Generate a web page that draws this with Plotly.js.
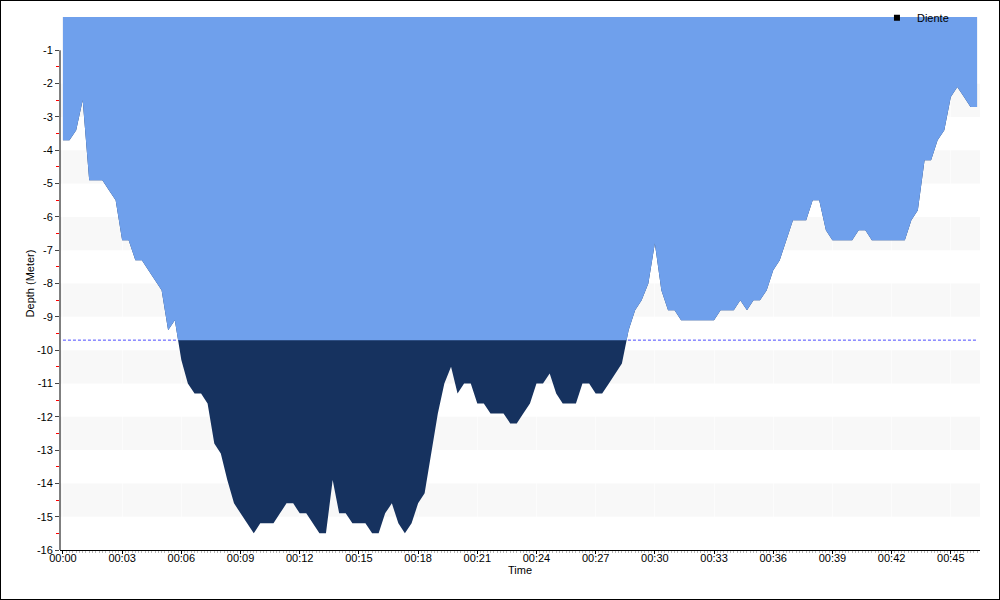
<!DOCTYPE html>
<html>
<head>
<meta charset="utf-8">
<script src="https://cdn.plot.ly/plotly-3.0.1.min.js"></script>
<style>
  html, body { margin: 0; padding: 0; background: #fff; }
  #wrap { position: relative; width: 1000px; height: 600px; }
  #chart { width: 1000px; height: 600px; }
  #frame { position: absolute; left: 0; top: 0; width: 1000px; height: 600px; box-sizing: border-box; border: 1px solid #000; pointer-events: none; }
</style>
</head>
<body>
<div id="wrap"><div id="chart"></div><div id="frame"></div></div>
<script>
// Dive time in minutes
const timeMin = [
  0, 0.33, 0.67, 1, 1.33, 1.67, 2, 2.33, 2.67, 3, 3.33, 3.67, 4, 4.33, 4.67, 5, 5.33, 5.67, 6, 6.33,
  6.67, 7, 7.33, 7.67, 8, 8.33, 8.67, 9, 9.33, 9.67, 10, 10.33, 10.67, 11, 11.33, 11.67, 12, 12.33, 12.67, 13,
  13.33, 13.67, 14, 14.33, 14.67, 15, 15.33, 15.67, 16, 16.33, 16.67, 17, 17.33, 17.67, 18, 18.33, 18.67, 19, 19.33, 19.67,
  20, 20.33, 20.67, 21, 21.33, 21.67, 22, 22.33, 22.67, 23, 23.33, 23.67, 24, 24.33, 24.67, 25, 25.33, 25.67, 26, 26.33,
  26.67, 27, 27.33, 27.67, 28, 28.33, 28.67, 29, 29.33, 29.67, 30, 30.33, 30.67, 31, 31.33, 31.67, 32, 32.33, 32.67, 33,
  33.33, 33.67, 34, 34.33, 34.67, 35, 35.33, 35.67, 36, 36.33, 36.67, 37, 37.33, 37.67, 38, 38.33, 38.67, 39, 39.33, 39.67,
  40, 40.33, 40.67, 41, 41.33, 41.67, 42, 42.33, 42.67, 43, 43.33, 43.67, 44, 44.33, 44.67, 45, 45.33, 45.67, 46, 46.33
];
// Depth in metres (negative = below surface)
const depthM = [
  -3.7, -3.7, -3.4, -2.5, -4.9, -4.9, -4.9, -5.2, -5.5, -6.7, -6.7, -7.3, -7.3, -7.6, -7.9, -8.2, -9.4, -9.1, -10.3, -11.0,
  -11.3, -11.3, -11.6, -12.8, -13.1, -13.9, -14.6, -14.9, -15.2, -15.5, -15.2, -15.2, -15.2, -14.9, -14.6, -14.6, -14.9, -14.9, -15.2, -15.5,
  -15.5, -13.9, -14.9, -14.9, -15.2, -15.2, -15.2, -15.5, -15.5, -14.9, -14.6, -15.2, -15.5, -15.2, -14.6, -14.3, -13.1, -11.9, -11.0, -10.5,
  -11.3, -11.0, -11.0, -11.6, -11.6, -11.9, -11.9, -11.9, -12.2, -12.2, -11.9, -11.6, -11.0, -11.0, -10.7, -11.3, -11.6, -11.6, -11.6, -11.0,
  -11.0, -11.3, -11.3, -11.0, -10.7, -10.4, -9.4, -8.8, -8.5, -8.0, -6.8, -8.2, -8.8, -8.8, -9.1, -9.1, -9.1, -9.1, -9.1, -9.1,
  -8.8, -8.8, -8.8, -8.5, -8.8, -8.5, -8.5, -8.2, -7.6, -7.3, -6.7, -6.1, -6.1, -6.1, -5.5, -5.5, -6.4, -6.7, -6.7, -6.7,
  -6.7, -6.4, -6.4, -6.7, -6.7, -6.7, -6.7, -6.7, -6.7, -6.1, -5.8, -4.3, -4.3, -3.7, -3.4, -2.4, -2.1, -2.4, -2.7, -2.7
];
// Threshold depth (dashed line / colour change)
const limitDepth = -9.7;
// Axis ticks
const xTickVals = [0, 3, 6, 9, 12, 15, 18, 21, 24, 27, 30, 33, 36, 39, 42, 45];
const xTickText = ["00:00", "00:03", "00:06", "00:09", "00:12", "00:15", "00:18", "00:21", "00:24", "00:27", "00:30", "00:33", "00:36", "00:39", "00:42", "00:45"];
const yTickVals = [-1, -2, -3, -4, -5, -6, -7, -8, -9, -10, -11, -12, -13, -14, -15, -16];
const yTickText = ["-1", "-2", "-3", "-4", "-5", "-6", "-7", "-8", "-9", "-10", "-11", "-12", "-13", "-14", "-15", "-16"];
const seriesName = "Diente";

// Shallow part of the profile: depth clipped at the threshold, with crossing points added
const shallowX = [], shallowY = [];
for (let i = 0; i < timeMin.length; i++) {
  if (i > 0) {
    const a = depthM[i - 1], b = depthM[i];
    if ((a - limitDepth) * (b - limitDepth) < 0) {
      const f = (limitDepth - a) / (b - a);
      shallowX.push(timeMin[i - 1] + f * (timeMin[i] - timeMin[i - 1]));
      shallowY.push(limitDepth);
    }
  }
  shallowX.push(timeMin[i]);
  shallowY.push(Math.max(depthM[i], limitDepth));
}

const FONT = "Liberation Sans, Arial, sans-serif";
const traces = [
  { x: [timeMin[0], timeMin[timeMin.length - 1]], y: [limitDepth, limitDepth], mode: "lines",
    line: { color: "#4b4bff", width: 1, dash: "3px,2px" }, showlegend: false, hoverinfo: "skip" },
  { x: timeMin, y: depthM, mode: "lines", fill: "tozeroy", fillcolor: "#16325f",
    line: { width: 0, color: "#16325f" }, showlegend: false, name: seriesName },
  { x: shallowX, y: shallowY, mode: "lines", fill: "tozeroy", fillcolor: "#6fa0ec",
    line: { width: 0, color: "#6fa0ec" }, showlegend: false, hoverinfo: "skip" },
  { x: [null], y: [null], mode: "markers", name: seriesName,
    marker: { symbol: "square", size: 6, color: "#000" }, showlegend: true }
];

const bandShapes = [];
for (let k = 1; k <= 7; k++) {
  bandShapes.push({ type: "rect", layer: "below", xref: "paper", yref: "y",
    x0: 0, x1: 1, y0: -(2 * k + 1), y1: -2 * k, fillcolor: "#f8f8f8", line: { width: 0 } });
}
bandShapes.push({ type: "line", layer: "above", xref: "paper", yref: "y",
  x0: 0, x1: 0, y0: -16, y1: -1, line: { color: "#000", width: 1 } });

const yMinor = [];
for (let v = -15.5; v <= -1.5; v += 1) yMinor.push(v);

const layout = {
  width: 1000, height: 600,
  margin: { l: 60, r: 20, t: 17, b: 50, autoexpand: false },
  paper_bgcolor: "#fff", plot_bgcolor: "#fff",
  font: { family: FONT, size: 11, color: "#000" },
  showlegend: true,
  legend: { x: 0.888, xanchor: "left", y: 1.026, yanchor: "top", bgcolor: "rgba(0,0,0,0)",
    font: { family: FONT, size: 11, color: "#000" }, itemwidth: 30, tracegroupgap: 0 },
  xaxis: {
    range: [-0.15, 46.48], tickmode: "array", tickvals: xTickVals, ticktext: xTickText,
    ticks: "outside", ticklen: 3, tickcolor: "#000", showline: true, linecolor: "#000", linewidth: 1,
    ticklabelstandoff: -5,
    showgrid: true, gridcolor: "rgba(255,255,255,0.6)", zeroline: false,
    minor: { dtick: 1 / 6, tick0: 0, ticks: "outside", ticklen: 2, tickcolor: "#bbb", showgrid: false },
    tickfont: { family: FONT, size: 11, color: "#000" },
    title: { text: "Time", standoff: 0, font: { family: FONT, size: 11, color: "#000" } }
  },
  yaxis: {
    range: [-16, 0], tickmode: "array", tickvals: yTickVals, ticktext: yTickText,
    ticks: "outside", ticklen: 4, tickcolor: "#444", showline: false, showgrid: false, zeroline: false,
    minor: { tickmode: "array", tickvals: yMinor, ticks: "outside", ticklen: 3, tickcolor: "#ff0000", showgrid: false },
    tickfont: { family: FONT, size: 11, color: "#000" },
    title: { text: "Depth (Meter)", standoff: 0, font: { family: FONT, size: 11, color: "#000" } }
  },
  shapes: bandShapes
};

Plotly.newPlot("chart", traces, layout, { displayModeBar: false, staticPlot: true });
</script>
</body>
</html>
